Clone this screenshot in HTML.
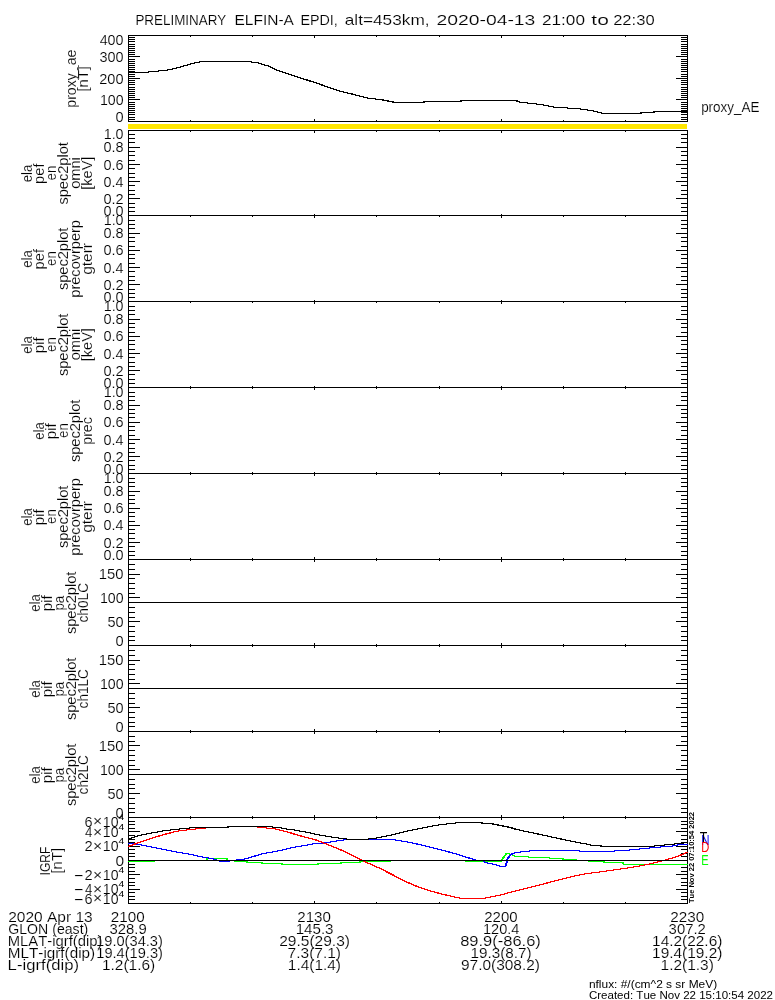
<!DOCTYPE html>
<html><head><meta charset="utf-8"><style>
html,body{margin:0;padding:0;background:#fff;overflow:hidden;}
svg{display:block;}
text{font-family:"Liberation Sans", sans-serif;font-kerning:none;stroke:#fff;stroke-width:0.15px;}
text.ns{stroke:none;}
</style></head><body>
<svg width="775" height="1000" viewBox="0 0 775 1000" shape-rendering="crispEdges">
<rect x="0" y="0" width="775" height="1000" fill="#fff"/>
<defs><clipPath id="pc"><rect x="128" y="0" width="560" height="1000"/></clipPath></defs>
<rect x="128" y="35" width="560" height="1" fill="#000"/>
<rect x="128" y="121" width="560" height="1" fill="#000"/>
<rect x="128" y="35" width="1" height="87" fill="#000"/>
<rect x="687" y="35" width="1" height="87" fill="#000"/>
<rect x="129" y="119" width="6" height="1" fill="#000"/>
<rect x="681" y="119" width="6" height="1" fill="#000"/>
<rect x="129" y="117" width="6" height="1" fill="#000"/>
<rect x="681" y="117" width="6" height="1" fill="#000"/>
<rect x="129" y="114" width="6" height="1" fill="#000"/>
<rect x="681" y="114" width="6" height="1" fill="#000"/>
<rect x="129" y="112" width="6" height="1" fill="#000"/>
<rect x="681" y="112" width="6" height="1" fill="#000"/>
<rect x="129" y="110" width="6" height="1" fill="#000"/>
<rect x="681" y="110" width="6" height="1" fill="#000"/>
<rect x="129" y="108" width="6" height="1" fill="#000"/>
<rect x="681" y="108" width="6" height="1" fill="#000"/>
<rect x="129" y="106" width="6" height="1" fill="#000"/>
<rect x="681" y="106" width="6" height="1" fill="#000"/>
<rect x="129" y="104" width="6" height="1" fill="#000"/>
<rect x="681" y="104" width="6" height="1" fill="#000"/>
<rect x="129" y="102" width="6" height="1" fill="#000"/>
<rect x="681" y="102" width="6" height="1" fill="#000"/>
<rect x="129" y="99" width="11" height="1" fill="#000"/>
<rect x="676" y="99" width="11" height="1" fill="#000"/>
<rect x="129" y="97" width="6" height="1" fill="#000"/>
<rect x="681" y="97" width="6" height="1" fill="#000"/>
<rect x="129" y="95" width="6" height="1" fill="#000"/>
<rect x="681" y="95" width="6" height="1" fill="#000"/>
<rect x="129" y="93" width="6" height="1" fill="#000"/>
<rect x="681" y="93" width="6" height="1" fill="#000"/>
<rect x="129" y="91" width="6" height="1" fill="#000"/>
<rect x="681" y="91" width="6" height="1" fill="#000"/>
<rect x="129" y="89" width="6" height="1" fill="#000"/>
<rect x="681" y="89" width="6" height="1" fill="#000"/>
<rect x="129" y="87" width="6" height="1" fill="#000"/>
<rect x="681" y="87" width="6" height="1" fill="#000"/>
<rect x="129" y="84" width="6" height="1" fill="#000"/>
<rect x="681" y="84" width="6" height="1" fill="#000"/>
<rect x="129" y="82" width="6" height="1" fill="#000"/>
<rect x="681" y="82" width="6" height="1" fill="#000"/>
<rect x="129" y="80" width="6" height="1" fill="#000"/>
<rect x="681" y="80" width="6" height="1" fill="#000"/>
<rect x="129" y="78" width="11" height="1" fill="#000"/>
<rect x="676" y="78" width="11" height="1" fill="#000"/>
<rect x="129" y="76" width="6" height="1" fill="#000"/>
<rect x="681" y="76" width="6" height="1" fill="#000"/>
<rect x="129" y="74" width="6" height="1" fill="#000"/>
<rect x="681" y="74" width="6" height="1" fill="#000"/>
<rect x="129" y="71" width="6" height="1" fill="#000"/>
<rect x="681" y="71" width="6" height="1" fill="#000"/>
<rect x="129" y="69" width="6" height="1" fill="#000"/>
<rect x="681" y="69" width="6" height="1" fill="#000"/>
<rect x="129" y="67" width="6" height="1" fill="#000"/>
<rect x="681" y="67" width="6" height="1" fill="#000"/>
<rect x="129" y="65" width="6" height="1" fill="#000"/>
<rect x="681" y="65" width="6" height="1" fill="#000"/>
<rect x="129" y="63" width="6" height="1" fill="#000"/>
<rect x="681" y="63" width="6" height="1" fill="#000"/>
<rect x="129" y="61" width="6" height="1" fill="#000"/>
<rect x="681" y="61" width="6" height="1" fill="#000"/>
<rect x="129" y="59" width="6" height="1" fill="#000"/>
<rect x="681" y="59" width="6" height="1" fill="#000"/>
<rect x="129" y="56" width="11" height="1" fill="#000"/>
<rect x="676" y="56" width="11" height="1" fill="#000"/>
<rect x="129" y="54" width="6" height="1" fill="#000"/>
<rect x="681" y="54" width="6" height="1" fill="#000"/>
<rect x="129" y="52" width="6" height="1" fill="#000"/>
<rect x="681" y="52" width="6" height="1" fill="#000"/>
<rect x="129" y="50" width="6" height="1" fill="#000"/>
<rect x="681" y="50" width="6" height="1" fill="#000"/>
<rect x="129" y="48" width="6" height="1" fill="#000"/>
<rect x="681" y="48" width="6" height="1" fill="#000"/>
<rect x="129" y="46" width="6" height="1" fill="#000"/>
<rect x="681" y="46" width="6" height="1" fill="#000"/>
<rect x="129" y="44" width="6" height="1" fill="#000"/>
<rect x="681" y="44" width="6" height="1" fill="#000"/>
<rect x="129" y="41" width="6" height="1" fill="#000"/>
<rect x="681" y="41" width="6" height="1" fill="#000"/>
<rect x="129" y="39" width="6" height="1" fill="#000"/>
<rect x="681" y="39" width="6" height="1" fill="#000"/>
<rect x="129" y="37" width="6" height="1" fill="#000"/>
<rect x="681" y="37" width="6" height="1" fill="#000"/>
<rect x="190" y="36" width="1" height="1" fill="#000"/>
<rect x="190" y="120" width="1" height="1" fill="#000"/>
<rect x="252" y="36" width="1" height="1" fill="#000"/>
<rect x="252" y="120" width="1" height="1" fill="#000"/>
<rect x="314" y="36" width="1" height="2" fill="#000"/>
<rect x="314" y="119" width="1" height="2" fill="#000"/>
<rect x="376" y="36" width="1" height="1" fill="#000"/>
<rect x="376" y="120" width="1" height="1" fill="#000"/>
<rect x="439" y="36" width="1" height="1" fill="#000"/>
<rect x="439" y="120" width="1" height="1" fill="#000"/>
<rect x="501" y="36" width="1" height="2" fill="#000"/>
<rect x="501" y="119" width="1" height="2" fill="#000"/>
<rect x="563" y="36" width="1" height="1" fill="#000"/>
<rect x="563" y="120" width="1" height="1" fill="#000"/>
<rect x="625" y="36" width="1" height="1" fill="#000"/>
<rect x="625" y="120" width="1" height="1" fill="#000"/>
<rect x="128" y="130" width="560" height="1" fill="#000"/>
<rect x="128" y="215" width="560" height="1" fill="#000"/>
<rect x="128" y="130" width="1" height="86" fill="#000"/>
<rect x="687" y="130" width="1" height="86" fill="#000"/>
<rect x="129" y="211" width="6" height="1" fill="#000"/>
<rect x="681" y="211" width="6" height="1" fill="#000"/>
<rect x="129" y="207" width="6" height="1" fill="#000"/>
<rect x="681" y="207" width="6" height="1" fill="#000"/>
<rect x="129" y="203" width="6" height="1" fill="#000"/>
<rect x="681" y="203" width="6" height="1" fill="#000"/>
<rect x="129" y="198" width="11" height="1" fill="#000"/>
<rect x="676" y="198" width="11" height="1" fill="#000"/>
<rect x="129" y="194" width="6" height="1" fill="#000"/>
<rect x="681" y="194" width="6" height="1" fill="#000"/>
<rect x="129" y="190" width="6" height="1" fill="#000"/>
<rect x="681" y="190" width="6" height="1" fill="#000"/>
<rect x="129" y="185" width="6" height="1" fill="#000"/>
<rect x="681" y="185" width="6" height="1" fill="#000"/>
<rect x="129" y="181" width="11" height="1" fill="#000"/>
<rect x="676" y="181" width="11" height="1" fill="#000"/>
<rect x="129" y="177" width="6" height="1" fill="#000"/>
<rect x="681" y="177" width="6" height="1" fill="#000"/>
<rect x="129" y="173" width="6" height="1" fill="#000"/>
<rect x="681" y="173" width="6" height="1" fill="#000"/>
<rect x="129" y="168" width="6" height="1" fill="#000"/>
<rect x="681" y="168" width="6" height="1" fill="#000"/>
<rect x="129" y="164" width="11" height="1" fill="#000"/>
<rect x="676" y="164" width="11" height="1" fill="#000"/>
<rect x="129" y="160" width="6" height="1" fill="#000"/>
<rect x="681" y="160" width="6" height="1" fill="#000"/>
<rect x="129" y="155" width="6" height="1" fill="#000"/>
<rect x="681" y="155" width="6" height="1" fill="#000"/>
<rect x="129" y="151" width="6" height="1" fill="#000"/>
<rect x="681" y="151" width="6" height="1" fill="#000"/>
<rect x="129" y="147" width="11" height="1" fill="#000"/>
<rect x="676" y="147" width="11" height="1" fill="#000"/>
<rect x="129" y="142" width="6" height="1" fill="#000"/>
<rect x="681" y="142" width="6" height="1" fill="#000"/>
<rect x="129" y="138" width="6" height="1" fill="#000"/>
<rect x="681" y="138" width="6" height="1" fill="#000"/>
<rect x="129" y="134" width="6" height="1" fill="#000"/>
<rect x="681" y="134" width="6" height="1" fill="#000"/>
<rect x="190" y="131" width="1" height="1" fill="#000"/>
<rect x="252" y="131" width="1" height="1" fill="#000"/>
<rect x="314" y="131" width="1" height="2" fill="#000"/>
<rect x="314" y="214" width="1" height="1" fill="#000"/>
<rect x="376" y="131" width="1" height="1" fill="#000"/>
<rect x="439" y="131" width="1" height="1" fill="#000"/>
<rect x="501" y="131" width="1" height="2" fill="#000"/>
<rect x="501" y="214" width="1" height="1" fill="#000"/>
<rect x="563" y="131" width="1" height="1" fill="#000"/>
<rect x="625" y="131" width="1" height="1" fill="#000"/>
<rect x="128" y="215" width="560" height="1" fill="#000"/>
<rect x="128" y="301" width="560" height="1" fill="#000"/>
<rect x="128" y="215" width="1" height="87" fill="#000"/>
<rect x="687" y="215" width="1" height="87" fill="#000"/>
<rect x="129" y="297" width="6" height="1" fill="#000"/>
<rect x="681" y="297" width="6" height="1" fill="#000"/>
<rect x="129" y="293" width="6" height="1" fill="#000"/>
<rect x="681" y="293" width="6" height="1" fill="#000"/>
<rect x="129" y="289" width="6" height="1" fill="#000"/>
<rect x="681" y="289" width="6" height="1" fill="#000"/>
<rect x="129" y="284" width="11" height="1" fill="#000"/>
<rect x="676" y="284" width="11" height="1" fill="#000"/>
<rect x="129" y="280" width="6" height="1" fill="#000"/>
<rect x="681" y="280" width="6" height="1" fill="#000"/>
<rect x="129" y="276" width="6" height="1" fill="#000"/>
<rect x="681" y="276" width="6" height="1" fill="#000"/>
<rect x="129" y="271" width="6" height="1" fill="#000"/>
<rect x="681" y="271" width="6" height="1" fill="#000"/>
<rect x="129" y="267" width="11" height="1" fill="#000"/>
<rect x="676" y="267" width="11" height="1" fill="#000"/>
<rect x="129" y="263" width="6" height="1" fill="#000"/>
<rect x="681" y="263" width="6" height="1" fill="#000"/>
<rect x="129" y="258" width="6" height="1" fill="#000"/>
<rect x="681" y="258" width="6" height="1" fill="#000"/>
<rect x="129" y="254" width="6" height="1" fill="#000"/>
<rect x="681" y="254" width="6" height="1" fill="#000"/>
<rect x="129" y="250" width="11" height="1" fill="#000"/>
<rect x="676" y="250" width="11" height="1" fill="#000"/>
<rect x="129" y="246" width="6" height="1" fill="#000"/>
<rect x="681" y="246" width="6" height="1" fill="#000"/>
<rect x="129" y="241" width="6" height="1" fill="#000"/>
<rect x="681" y="241" width="6" height="1" fill="#000"/>
<rect x="129" y="237" width="6" height="1" fill="#000"/>
<rect x="681" y="237" width="6" height="1" fill="#000"/>
<rect x="129" y="233" width="11" height="1" fill="#000"/>
<rect x="676" y="233" width="11" height="1" fill="#000"/>
<rect x="129" y="228" width="6" height="1" fill="#000"/>
<rect x="681" y="228" width="6" height="1" fill="#000"/>
<rect x="129" y="224" width="6" height="1" fill="#000"/>
<rect x="681" y="224" width="6" height="1" fill="#000"/>
<rect x="129" y="220" width="6" height="1" fill="#000"/>
<rect x="681" y="220" width="6" height="1" fill="#000"/>
<rect x="190" y="216" width="1" height="1" fill="#000"/>
<rect x="252" y="216" width="1" height="1" fill="#000"/>
<rect x="314" y="216" width="1" height="2" fill="#000"/>
<rect x="314" y="300" width="1" height="1" fill="#000"/>
<rect x="376" y="216" width="1" height="1" fill="#000"/>
<rect x="439" y="216" width="1" height="1" fill="#000"/>
<rect x="501" y="216" width="1" height="2" fill="#000"/>
<rect x="501" y="300" width="1" height="1" fill="#000"/>
<rect x="563" y="216" width="1" height="1" fill="#000"/>
<rect x="625" y="216" width="1" height="1" fill="#000"/>
<rect x="128" y="301" width="560" height="1" fill="#000"/>
<rect x="128" y="387" width="560" height="1" fill="#000"/>
<rect x="128" y="301" width="1" height="87" fill="#000"/>
<rect x="687" y="301" width="1" height="87" fill="#000"/>
<rect x="129" y="383" width="6" height="1" fill="#000"/>
<rect x="681" y="383" width="6" height="1" fill="#000"/>
<rect x="129" y="379" width="6" height="1" fill="#000"/>
<rect x="681" y="379" width="6" height="1" fill="#000"/>
<rect x="129" y="374" width="6" height="1" fill="#000"/>
<rect x="681" y="374" width="6" height="1" fill="#000"/>
<rect x="129" y="370" width="11" height="1" fill="#000"/>
<rect x="676" y="370" width="11" height="1" fill="#000"/>
<rect x="129" y="366" width="6" height="1" fill="#000"/>
<rect x="681" y="366" width="6" height="1" fill="#000"/>
<rect x="129" y="362" width="6" height="1" fill="#000"/>
<rect x="681" y="362" width="6" height="1" fill="#000"/>
<rect x="129" y="357" width="6" height="1" fill="#000"/>
<rect x="681" y="357" width="6" height="1" fill="#000"/>
<rect x="129" y="353" width="11" height="1" fill="#000"/>
<rect x="676" y="353" width="11" height="1" fill="#000"/>
<rect x="129" y="349" width="6" height="1" fill="#000"/>
<rect x="681" y="349" width="6" height="1" fill="#000"/>
<rect x="129" y="344" width="6" height="1" fill="#000"/>
<rect x="681" y="344" width="6" height="1" fill="#000"/>
<rect x="129" y="340" width="6" height="1" fill="#000"/>
<rect x="681" y="340" width="6" height="1" fill="#000"/>
<rect x="129" y="336" width="11" height="1" fill="#000"/>
<rect x="676" y="336" width="11" height="1" fill="#000"/>
<rect x="129" y="332" width="6" height="1" fill="#000"/>
<rect x="681" y="332" width="6" height="1" fill="#000"/>
<rect x="129" y="327" width="6" height="1" fill="#000"/>
<rect x="681" y="327" width="6" height="1" fill="#000"/>
<rect x="129" y="323" width="6" height="1" fill="#000"/>
<rect x="681" y="323" width="6" height="1" fill="#000"/>
<rect x="129" y="319" width="11" height="1" fill="#000"/>
<rect x="676" y="319" width="11" height="1" fill="#000"/>
<rect x="129" y="314" width="6" height="1" fill="#000"/>
<rect x="681" y="314" width="6" height="1" fill="#000"/>
<rect x="129" y="310" width="6" height="1" fill="#000"/>
<rect x="681" y="310" width="6" height="1" fill="#000"/>
<rect x="129" y="306" width="6" height="1" fill="#000"/>
<rect x="681" y="306" width="6" height="1" fill="#000"/>
<rect x="190" y="302" width="1" height="1" fill="#000"/>
<rect x="190" y="386" width="1" height="1" fill="#000"/>
<rect x="252" y="302" width="1" height="1" fill="#000"/>
<rect x="252" y="386" width="1" height="1" fill="#000"/>
<rect x="314" y="302" width="1" height="2" fill="#000"/>
<rect x="314" y="386" width="1" height="1" fill="#000"/>
<rect x="376" y="302" width="1" height="1" fill="#000"/>
<rect x="376" y="386" width="1" height="1" fill="#000"/>
<rect x="439" y="302" width="1" height="1" fill="#000"/>
<rect x="439" y="386" width="1" height="1" fill="#000"/>
<rect x="501" y="302" width="1" height="2" fill="#000"/>
<rect x="501" y="386" width="1" height="1" fill="#000"/>
<rect x="563" y="302" width="1" height="1" fill="#000"/>
<rect x="563" y="386" width="1" height="1" fill="#000"/>
<rect x="625" y="302" width="1" height="1" fill="#000"/>
<rect x="625" y="386" width="1" height="1" fill="#000"/>
<rect x="128" y="387" width="560" height="1" fill="#000"/>
<rect x="128" y="473" width="560" height="1" fill="#000"/>
<rect x="128" y="387" width="1" height="87" fill="#000"/>
<rect x="687" y="387" width="1" height="87" fill="#000"/>
<rect x="129" y="469" width="6" height="1" fill="#000"/>
<rect x="681" y="469" width="6" height="1" fill="#000"/>
<rect x="129" y="465" width="6" height="1" fill="#000"/>
<rect x="681" y="465" width="6" height="1" fill="#000"/>
<rect x="129" y="460" width="6" height="1" fill="#000"/>
<rect x="681" y="460" width="6" height="1" fill="#000"/>
<rect x="129" y="456" width="11" height="1" fill="#000"/>
<rect x="676" y="456" width="11" height="1" fill="#000"/>
<rect x="129" y="452" width="6" height="1" fill="#000"/>
<rect x="681" y="452" width="6" height="1" fill="#000"/>
<rect x="129" y="448" width="6" height="1" fill="#000"/>
<rect x="681" y="448" width="6" height="1" fill="#000"/>
<rect x="129" y="443" width="6" height="1" fill="#000"/>
<rect x="681" y="443" width="6" height="1" fill="#000"/>
<rect x="129" y="439" width="11" height="1" fill="#000"/>
<rect x="676" y="439" width="11" height="1" fill="#000"/>
<rect x="129" y="435" width="6" height="1" fill="#000"/>
<rect x="681" y="435" width="6" height="1" fill="#000"/>
<rect x="129" y="430" width="6" height="1" fill="#000"/>
<rect x="681" y="430" width="6" height="1" fill="#000"/>
<rect x="129" y="426" width="6" height="1" fill="#000"/>
<rect x="681" y="426" width="6" height="1" fill="#000"/>
<rect x="129" y="422" width="11" height="1" fill="#000"/>
<rect x="676" y="422" width="11" height="1" fill="#000"/>
<rect x="129" y="417" width="6" height="1" fill="#000"/>
<rect x="681" y="417" width="6" height="1" fill="#000"/>
<rect x="129" y="413" width="6" height="1" fill="#000"/>
<rect x="681" y="413" width="6" height="1" fill="#000"/>
<rect x="129" y="409" width="6" height="1" fill="#000"/>
<rect x="681" y="409" width="6" height="1" fill="#000"/>
<rect x="129" y="405" width="11" height="1" fill="#000"/>
<rect x="676" y="405" width="11" height="1" fill="#000"/>
<rect x="129" y="400" width="6" height="1" fill="#000"/>
<rect x="681" y="400" width="6" height="1" fill="#000"/>
<rect x="129" y="396" width="6" height="1" fill="#000"/>
<rect x="681" y="396" width="6" height="1" fill="#000"/>
<rect x="129" y="392" width="6" height="1" fill="#000"/>
<rect x="681" y="392" width="6" height="1" fill="#000"/>
<rect x="190" y="388" width="1" height="1" fill="#000"/>
<rect x="190" y="472" width="1" height="1" fill="#000"/>
<rect x="252" y="388" width="1" height="1" fill="#000"/>
<rect x="252" y="472" width="1" height="1" fill="#000"/>
<rect x="314" y="388" width="1" height="2" fill="#000"/>
<rect x="314" y="472" width="1" height="1" fill="#000"/>
<rect x="376" y="388" width="1" height="1" fill="#000"/>
<rect x="376" y="472" width="1" height="1" fill="#000"/>
<rect x="439" y="388" width="1" height="1" fill="#000"/>
<rect x="439" y="472" width="1" height="1" fill="#000"/>
<rect x="501" y="388" width="1" height="2" fill="#000"/>
<rect x="501" y="472" width="1" height="1" fill="#000"/>
<rect x="563" y="388" width="1" height="1" fill="#000"/>
<rect x="563" y="472" width="1" height="1" fill="#000"/>
<rect x="625" y="388" width="1" height="1" fill="#000"/>
<rect x="625" y="472" width="1" height="1" fill="#000"/>
<rect x="128" y="473" width="560" height="1" fill="#000"/>
<rect x="128" y="559" width="560" height="1" fill="#000"/>
<rect x="128" y="473" width="1" height="87" fill="#000"/>
<rect x="687" y="473" width="1" height="87" fill="#000"/>
<rect x="129" y="555" width="6" height="1" fill="#000"/>
<rect x="681" y="555" width="6" height="1" fill="#000"/>
<rect x="129" y="551" width="6" height="1" fill="#000"/>
<rect x="681" y="551" width="6" height="1" fill="#000"/>
<rect x="129" y="546" width="6" height="1" fill="#000"/>
<rect x="681" y="546" width="6" height="1" fill="#000"/>
<rect x="129" y="542" width="11" height="1" fill="#000"/>
<rect x="676" y="542" width="11" height="1" fill="#000"/>
<rect x="129" y="538" width="6" height="1" fill="#000"/>
<rect x="681" y="538" width="6" height="1" fill="#000"/>
<rect x="129" y="533" width="6" height="1" fill="#000"/>
<rect x="681" y="533" width="6" height="1" fill="#000"/>
<rect x="129" y="529" width="6" height="1" fill="#000"/>
<rect x="681" y="529" width="6" height="1" fill="#000"/>
<rect x="129" y="525" width="11" height="1" fill="#000"/>
<rect x="676" y="525" width="11" height="1" fill="#000"/>
<rect x="129" y="521" width="6" height="1" fill="#000"/>
<rect x="681" y="521" width="6" height="1" fill="#000"/>
<rect x="129" y="516" width="6" height="1" fill="#000"/>
<rect x="681" y="516" width="6" height="1" fill="#000"/>
<rect x="129" y="512" width="6" height="1" fill="#000"/>
<rect x="681" y="512" width="6" height="1" fill="#000"/>
<rect x="129" y="508" width="11" height="1" fill="#000"/>
<rect x="676" y="508" width="11" height="1" fill="#000"/>
<rect x="129" y="503" width="6" height="1" fill="#000"/>
<rect x="681" y="503" width="6" height="1" fill="#000"/>
<rect x="129" y="499" width="6" height="1" fill="#000"/>
<rect x="681" y="499" width="6" height="1" fill="#000"/>
<rect x="129" y="495" width="6" height="1" fill="#000"/>
<rect x="681" y="495" width="6" height="1" fill="#000"/>
<rect x="129" y="491" width="11" height="1" fill="#000"/>
<rect x="676" y="491" width="11" height="1" fill="#000"/>
<rect x="129" y="486" width="6" height="1" fill="#000"/>
<rect x="681" y="486" width="6" height="1" fill="#000"/>
<rect x="129" y="482" width="6" height="1" fill="#000"/>
<rect x="681" y="482" width="6" height="1" fill="#000"/>
<rect x="129" y="478" width="6" height="1" fill="#000"/>
<rect x="681" y="478" width="6" height="1" fill="#000"/>
<rect x="190" y="474" width="1" height="1" fill="#000"/>
<rect x="190" y="558" width="1" height="1" fill="#000"/>
<rect x="252" y="474" width="1" height="1" fill="#000"/>
<rect x="252" y="558" width="1" height="1" fill="#000"/>
<rect x="314" y="474" width="1" height="2" fill="#000"/>
<rect x="314" y="557" width="1" height="2" fill="#000"/>
<rect x="376" y="474" width="1" height="1" fill="#000"/>
<rect x="376" y="558" width="1" height="1" fill="#000"/>
<rect x="439" y="474" width="1" height="1" fill="#000"/>
<rect x="439" y="558" width="1" height="1" fill="#000"/>
<rect x="501" y="474" width="1" height="2" fill="#000"/>
<rect x="501" y="557" width="1" height="2" fill="#000"/>
<rect x="563" y="474" width="1" height="1" fill="#000"/>
<rect x="563" y="558" width="1" height="1" fill="#000"/>
<rect x="625" y="474" width="1" height="1" fill="#000"/>
<rect x="625" y="558" width="1" height="1" fill="#000"/>
<rect x="128" y="559" width="560" height="1" fill="#000"/>
<rect x="128" y="645" width="560" height="1" fill="#000"/>
<rect x="128" y="559" width="1" height="87" fill="#000"/>
<rect x="687" y="559" width="1" height="87" fill="#000"/>
<rect x="129" y="640" width="6" height="1" fill="#000"/>
<rect x="681" y="640" width="6" height="1" fill="#000"/>
<rect x="129" y="636" width="6" height="1" fill="#000"/>
<rect x="681" y="636" width="6" height="1" fill="#000"/>
<rect x="129" y="631" width="6" height="1" fill="#000"/>
<rect x="681" y="631" width="6" height="1" fill="#000"/>
<rect x="129" y="626" width="6" height="1" fill="#000"/>
<rect x="681" y="626" width="6" height="1" fill="#000"/>
<rect x="129" y="621" width="11" height="1" fill="#000"/>
<rect x="676" y="621" width="11" height="1" fill="#000"/>
<rect x="129" y="617" width="6" height="1" fill="#000"/>
<rect x="681" y="617" width="6" height="1" fill="#000"/>
<rect x="129" y="612" width="6" height="1" fill="#000"/>
<rect x="681" y="612" width="6" height="1" fill="#000"/>
<rect x="129" y="607" width="6" height="1" fill="#000"/>
<rect x="681" y="607" width="6" height="1" fill="#000"/>
<rect x="129" y="602" width="6" height="1" fill="#000"/>
<rect x="681" y="602" width="6" height="1" fill="#000"/>
<rect x="129" y="597" width="11" height="1" fill="#000"/>
<rect x="676" y="597" width="11" height="1" fill="#000"/>
<rect x="129" y="593" width="6" height="1" fill="#000"/>
<rect x="681" y="593" width="6" height="1" fill="#000"/>
<rect x="129" y="588" width="6" height="1" fill="#000"/>
<rect x="681" y="588" width="6" height="1" fill="#000"/>
<rect x="129" y="583" width="6" height="1" fill="#000"/>
<rect x="681" y="583" width="6" height="1" fill="#000"/>
<rect x="129" y="578" width="6" height="1" fill="#000"/>
<rect x="681" y="578" width="6" height="1" fill="#000"/>
<rect x="129" y="574" width="11" height="1" fill="#000"/>
<rect x="676" y="574" width="11" height="1" fill="#000"/>
<rect x="129" y="569" width="6" height="1" fill="#000"/>
<rect x="681" y="569" width="6" height="1" fill="#000"/>
<rect x="129" y="564" width="6" height="1" fill="#000"/>
<rect x="681" y="564" width="6" height="1" fill="#000"/>
<rect x="190" y="560" width="1" height="1" fill="#000"/>
<rect x="190" y="644" width="1" height="1" fill="#000"/>
<rect x="252" y="560" width="1" height="1" fill="#000"/>
<rect x="252" y="644" width="1" height="1" fill="#000"/>
<rect x="314" y="560" width="1" height="2" fill="#000"/>
<rect x="314" y="643" width="1" height="2" fill="#000"/>
<rect x="376" y="560" width="1" height="1" fill="#000"/>
<rect x="376" y="644" width="1" height="1" fill="#000"/>
<rect x="439" y="560" width="1" height="1" fill="#000"/>
<rect x="439" y="644" width="1" height="1" fill="#000"/>
<rect x="501" y="560" width="1" height="2" fill="#000"/>
<rect x="501" y="643" width="1" height="2" fill="#000"/>
<rect x="563" y="560" width="1" height="1" fill="#000"/>
<rect x="563" y="644" width="1" height="1" fill="#000"/>
<rect x="625" y="560" width="1" height="1" fill="#000"/>
<rect x="625" y="644" width="1" height="1" fill="#000"/>
<rect x="128" y="645" width="560" height="1" fill="#000"/>
<rect x="128" y="731" width="560" height="1" fill="#000"/>
<rect x="128" y="645" width="1" height="87" fill="#000"/>
<rect x="687" y="645" width="1" height="87" fill="#000"/>
<rect x="129" y="726" width="6" height="1" fill="#000"/>
<rect x="681" y="726" width="6" height="1" fill="#000"/>
<rect x="129" y="722" width="6" height="1" fill="#000"/>
<rect x="681" y="722" width="6" height="1" fill="#000"/>
<rect x="129" y="717" width="6" height="1" fill="#000"/>
<rect x="681" y="717" width="6" height="1" fill="#000"/>
<rect x="129" y="712" width="6" height="1" fill="#000"/>
<rect x="681" y="712" width="6" height="1" fill="#000"/>
<rect x="129" y="707" width="11" height="1" fill="#000"/>
<rect x="676" y="707" width="11" height="1" fill="#000"/>
<rect x="129" y="703" width="6" height="1" fill="#000"/>
<rect x="681" y="703" width="6" height="1" fill="#000"/>
<rect x="129" y="698" width="6" height="1" fill="#000"/>
<rect x="681" y="698" width="6" height="1" fill="#000"/>
<rect x="129" y="693" width="6" height="1" fill="#000"/>
<rect x="681" y="693" width="6" height="1" fill="#000"/>
<rect x="129" y="688" width="6" height="1" fill="#000"/>
<rect x="681" y="688" width="6" height="1" fill="#000"/>
<rect x="129" y="683" width="11" height="1" fill="#000"/>
<rect x="676" y="683" width="11" height="1" fill="#000"/>
<rect x="129" y="679" width="6" height="1" fill="#000"/>
<rect x="681" y="679" width="6" height="1" fill="#000"/>
<rect x="129" y="674" width="6" height="1" fill="#000"/>
<rect x="681" y="674" width="6" height="1" fill="#000"/>
<rect x="129" y="669" width="6" height="1" fill="#000"/>
<rect x="681" y="669" width="6" height="1" fill="#000"/>
<rect x="129" y="664" width="6" height="1" fill="#000"/>
<rect x="681" y="664" width="6" height="1" fill="#000"/>
<rect x="129" y="660" width="11" height="1" fill="#000"/>
<rect x="676" y="660" width="11" height="1" fill="#000"/>
<rect x="129" y="655" width="6" height="1" fill="#000"/>
<rect x="681" y="655" width="6" height="1" fill="#000"/>
<rect x="129" y="650" width="6" height="1" fill="#000"/>
<rect x="681" y="650" width="6" height="1" fill="#000"/>
<rect x="190" y="646" width="1" height="1" fill="#000"/>
<rect x="190" y="730" width="1" height="1" fill="#000"/>
<rect x="252" y="646" width="1" height="1" fill="#000"/>
<rect x="252" y="730" width="1" height="1" fill="#000"/>
<rect x="314" y="646" width="1" height="2" fill="#000"/>
<rect x="314" y="729" width="1" height="2" fill="#000"/>
<rect x="376" y="646" width="1" height="1" fill="#000"/>
<rect x="376" y="730" width="1" height="1" fill="#000"/>
<rect x="439" y="646" width="1" height="1" fill="#000"/>
<rect x="439" y="730" width="1" height="1" fill="#000"/>
<rect x="501" y="646" width="1" height="2" fill="#000"/>
<rect x="501" y="729" width="1" height="2" fill="#000"/>
<rect x="563" y="646" width="1" height="1" fill="#000"/>
<rect x="563" y="730" width="1" height="1" fill="#000"/>
<rect x="625" y="646" width="1" height="1" fill="#000"/>
<rect x="625" y="730" width="1" height="1" fill="#000"/>
<rect x="128" y="731" width="560" height="1" fill="#000"/>
<rect x="128" y="817" width="560" height="1" fill="#000"/>
<rect x="128" y="731" width="1" height="87" fill="#000"/>
<rect x="687" y="731" width="1" height="87" fill="#000"/>
<rect x="129" y="812" width="6" height="1" fill="#000"/>
<rect x="681" y="812" width="6" height="1" fill="#000"/>
<rect x="129" y="808" width="6" height="1" fill="#000"/>
<rect x="681" y="808" width="6" height="1" fill="#000"/>
<rect x="129" y="803" width="6" height="1" fill="#000"/>
<rect x="681" y="803" width="6" height="1" fill="#000"/>
<rect x="129" y="798" width="6" height="1" fill="#000"/>
<rect x="681" y="798" width="6" height="1" fill="#000"/>
<rect x="129" y="793" width="11" height="1" fill="#000"/>
<rect x="676" y="793" width="11" height="1" fill="#000"/>
<rect x="129" y="788" width="6" height="1" fill="#000"/>
<rect x="681" y="788" width="6" height="1" fill="#000"/>
<rect x="129" y="784" width="6" height="1" fill="#000"/>
<rect x="681" y="784" width="6" height="1" fill="#000"/>
<rect x="129" y="779" width="6" height="1" fill="#000"/>
<rect x="681" y="779" width="6" height="1" fill="#000"/>
<rect x="129" y="774" width="6" height="1" fill="#000"/>
<rect x="681" y="774" width="6" height="1" fill="#000"/>
<rect x="129" y="769" width="11" height="1" fill="#000"/>
<rect x="676" y="769" width="11" height="1" fill="#000"/>
<rect x="129" y="765" width="6" height="1" fill="#000"/>
<rect x="681" y="765" width="6" height="1" fill="#000"/>
<rect x="129" y="760" width="6" height="1" fill="#000"/>
<rect x="681" y="760" width="6" height="1" fill="#000"/>
<rect x="129" y="755" width="6" height="1" fill="#000"/>
<rect x="681" y="755" width="6" height="1" fill="#000"/>
<rect x="129" y="750" width="6" height="1" fill="#000"/>
<rect x="681" y="750" width="6" height="1" fill="#000"/>
<rect x="129" y="745" width="11" height="1" fill="#000"/>
<rect x="676" y="745" width="11" height="1" fill="#000"/>
<rect x="129" y="741" width="6" height="1" fill="#000"/>
<rect x="681" y="741" width="6" height="1" fill="#000"/>
<rect x="129" y="736" width="6" height="1" fill="#000"/>
<rect x="681" y="736" width="6" height="1" fill="#000"/>
<rect x="190" y="732" width="1" height="1" fill="#000"/>
<rect x="190" y="816" width="1" height="1" fill="#000"/>
<rect x="252" y="732" width="1" height="1" fill="#000"/>
<rect x="252" y="816" width="1" height="1" fill="#000"/>
<rect x="314" y="732" width="1" height="2" fill="#000"/>
<rect x="314" y="815" width="1" height="2" fill="#000"/>
<rect x="376" y="732" width="1" height="1" fill="#000"/>
<rect x="376" y="816" width="1" height="1" fill="#000"/>
<rect x="439" y="732" width="1" height="1" fill="#000"/>
<rect x="439" y="816" width="1" height="1" fill="#000"/>
<rect x="501" y="732" width="1" height="2" fill="#000"/>
<rect x="501" y="815" width="1" height="2" fill="#000"/>
<rect x="563" y="732" width="1" height="1" fill="#000"/>
<rect x="563" y="816" width="1" height="1" fill="#000"/>
<rect x="625" y="732" width="1" height="1" fill="#000"/>
<rect x="625" y="816" width="1" height="1" fill="#000"/>
<rect x="128" y="817" width="560" height="1" fill="#000"/>
<rect x="128" y="903" width="560" height="1" fill="#000"/>
<rect x="128" y="817" width="1" height="87" fill="#000"/>
<rect x="687" y="817" width="1" height="87" fill="#000"/>
<rect x="129" y="899" width="6" height="1" fill="#000"/>
<rect x="681" y="899" width="6" height="1" fill="#000"/>
<rect x="129" y="896" width="6" height="1" fill="#000"/>
<rect x="681" y="896" width="6" height="1" fill="#000"/>
<rect x="129" y="892" width="6" height="1" fill="#000"/>
<rect x="681" y="892" width="6" height="1" fill="#000"/>
<rect x="129" y="889" width="11" height="1" fill="#000"/>
<rect x="676" y="889" width="11" height="1" fill="#000"/>
<rect x="129" y="885" width="6" height="1" fill="#000"/>
<rect x="681" y="885" width="6" height="1" fill="#000"/>
<rect x="129" y="882" width="6" height="1" fill="#000"/>
<rect x="681" y="882" width="6" height="1" fill="#000"/>
<rect x="129" y="878" width="6" height="1" fill="#000"/>
<rect x="681" y="878" width="6" height="1" fill="#000"/>
<rect x="129" y="874" width="11" height="1" fill="#000"/>
<rect x="676" y="874" width="11" height="1" fill="#000"/>
<rect x="129" y="871" width="6" height="1" fill="#000"/>
<rect x="681" y="871" width="6" height="1" fill="#000"/>
<rect x="129" y="867" width="6" height="1" fill="#000"/>
<rect x="681" y="867" width="6" height="1" fill="#000"/>
<rect x="129" y="864" width="6" height="1" fill="#000"/>
<rect x="681" y="864" width="6" height="1" fill="#000"/>
<rect x="129" y="860" width="11" height="1" fill="#000"/>
<rect x="676" y="860" width="11" height="1" fill="#000"/>
<rect x="129" y="856" width="6" height="1" fill="#000"/>
<rect x="681" y="856" width="6" height="1" fill="#000"/>
<rect x="129" y="853" width="6" height="1" fill="#000"/>
<rect x="681" y="853" width="6" height="1" fill="#000"/>
<rect x="129" y="849" width="6" height="1" fill="#000"/>
<rect x="681" y="849" width="6" height="1" fill="#000"/>
<rect x="129" y="846" width="11" height="1" fill="#000"/>
<rect x="676" y="846" width="11" height="1" fill="#000"/>
<rect x="129" y="842" width="6" height="1" fill="#000"/>
<rect x="681" y="842" width="6" height="1" fill="#000"/>
<rect x="129" y="839" width="6" height="1" fill="#000"/>
<rect x="681" y="839" width="6" height="1" fill="#000"/>
<rect x="129" y="835" width="6" height="1" fill="#000"/>
<rect x="681" y="835" width="6" height="1" fill="#000"/>
<rect x="129" y="831" width="11" height="1" fill="#000"/>
<rect x="676" y="831" width="11" height="1" fill="#000"/>
<rect x="129" y="828" width="6" height="1" fill="#000"/>
<rect x="681" y="828" width="6" height="1" fill="#000"/>
<rect x="129" y="824" width="6" height="1" fill="#000"/>
<rect x="681" y="824" width="6" height="1" fill="#000"/>
<rect x="129" y="821" width="6" height="1" fill="#000"/>
<rect x="681" y="821" width="6" height="1" fill="#000"/>
<rect x="190" y="818" width="1" height="1" fill="#000"/>
<rect x="190" y="902" width="1" height="1" fill="#000"/>
<rect x="252" y="818" width="1" height="1" fill="#000"/>
<rect x="252" y="902" width="1" height="1" fill="#000"/>
<rect x="314" y="818" width="1" height="2" fill="#000"/>
<rect x="314" y="901" width="1" height="2" fill="#000"/>
<rect x="376" y="818" width="1" height="1" fill="#000"/>
<rect x="376" y="902" width="1" height="1" fill="#000"/>
<rect x="439" y="818" width="1" height="1" fill="#000"/>
<rect x="439" y="902" width="1" height="1" fill="#000"/>
<rect x="501" y="818" width="1" height="2" fill="#000"/>
<rect x="501" y="901" width="1" height="2" fill="#000"/>
<rect x="563" y="818" width="1" height="1" fill="#000"/>
<rect x="563" y="902" width="1" height="1" fill="#000"/>
<rect x="625" y="818" width="1" height="1" fill="#000"/>
<rect x="625" y="902" width="1" height="1" fill="#000"/>
<rect x="128" y="124" width="559" height="5" fill="#ffe600"/>
<rect x="128" y="602" width="560" height="1" fill="#000"/>
<rect x="128" y="688" width="560" height="1" fill="#000"/>
<rect x="128" y="774" width="560" height="1" fill="#000"/>
<g clip-path="url(#pc)" fill="none" stroke="#000" stroke-width="1"><polyline points="128,73 150,71.9 167,70.1 180,67 192,63.4 202,61.5 248,61.5 258,63 265,65.2 268,66.1 276,70.1 290,74.8 314,82.4 340,91.4 350,93.6 368,98.3 380,99.5 395,102.5 423,102.5 423,101.5 460,101.5 460,100.5 516,100.5 517,101.7 523,102.8 530,103.2 545,105.3 555,107.4 567,108 580,109 594,111.1 603,113.5 640,113.5 641,112.5 653,112.5 654,111.5 687,111.5"/><polyline points="128,73 150,71.9 167,70.1 180,67 192,63.4 202,61.5 248,61.5 258,63 265,65.2 268,66.1 276,70.1 290,74.8 314,82.4 340,91.4 350,93.6 368,98.3 380,99.5 395,102.5 423,102.5 423,101.5 460,101.5 460,100.5 516,100.5 517,101.7 523,102.8 530,103.2 545,105.3 555,107.4 567,108 580,109 594,111.1 603,113.5 640,113.5 641,112.5 653,112.5 654,111.5 687,111.5" transform="translate(1 0)"/></g>
<g clip-path="url(#pc)" fill="none" stroke="#00ff00" stroke-width="1"><polyline points="128,861.4 153,861.4 153,860.4 206,860.4 206,858.9 226,858.9 226,860.4 234,860.4 234,861.2 246,861.2 246,862.4 261,862.4 261,863.6 281,863.6 281,864.3 317,864.3 317,863.6 340,863.6 340,862.7 359,862.7 360,861.5 389,861.5 390,860.4 465,860.4 465,861.4 500,861.4 506,853.5 508,853.5 512,855 515,856.3 527,856.3 528,857 548,857 549,858.2 562,858.2 563,859.3 575,859.3 576,860.4 588,860.4 588,861.5 603,861.5 603,862.5 622,862.5 623,864.2 687,864.2"/><polyline points="128,861.4 153,861.4 153,860.4 206,860.4 206,858.9 226,858.9 226,860.4 234,860.4 234,861.2 246,861.2 246,862.4 261,862.4 261,863.6 281,863.6 281,864.3 317,864.3 317,863.6 340,863.6 340,862.7 359,862.7 360,861.5 389,861.5 390,860.4 465,860.4 465,861.4 500,861.4 506,853.5 508,853.5 512,855 515,856.3 527,856.3 528,857 548,857 549,858.2 562,858.2 563,859.3 575,859.3 576,860.4 588,860.4 588,861.5 603,861.5 603,862.5 622,862.5 623,864.2 687,864.2" transform="translate(1 0)"/></g>
<g clip-path="url(#pc)" fill="none" stroke="#0000ff" stroke-width="1"><polyline points="128,843.4 138,844.4 151,847 164,849.6 177,852.2 190,854.4 202,857 213,858.9 220,861.2 228,861.2 236,860 245,858.9 262,853.7 270,852.3 279,850.7 288,848.5 297,846.6 308,844.8 314,843.7 321,843.3 328,842.3 334,841.3 341,840.3 347,839.5 391,839.5 398,840.5 404,841.6 410,842.5 425,846 440,849.8 455,853.7 470,858.5 474,859.5 476,860.5 482,860.5 485,862.5 495,864.7 500,866.4 505,866.4 507,858.9 510,855 512,853.7 516,852.4 522,851.8 530,850.9 531,850.2 578,850.2 580,851.4 610,851.4 615,850.9 625,850.9 630,849.8 635,849.8 640,848.8 645,848.8 650,847.9 655,847.9 660,847 665,846.4 670,846.4 675,845.3 680,844.4 687,844.4"/><polyline points="128,843.4 138,844.4 151,847 164,849.6 177,852.2 190,854.4 202,857 213,858.9 220,861.2 228,861.2 236,860 245,858.9 262,853.7 270,852.3 279,850.7 288,848.5 297,846.6 308,844.8 314,843.7 321,843.3 328,842.3 334,841.3 341,840.3 347,839.5 391,839.5 398,840.5 404,841.6 410,842.5 425,846 440,849.8 455,853.7 470,858.5 474,859.5 476,860.5 482,860.5 485,862.5 495,864.7 500,866.4 505,866.4 507,858.9 510,855 512,853.7 516,852.4 522,851.8 530,850.9 531,850.2 578,850.2 580,851.4 610,851.4 615,850.9 625,850.9 630,849.8 635,849.8 640,848.8 645,848.8 650,847.9 655,847.9 660,847 665,846.4 670,846.4 675,845.3 680,844.4 687,844.4" transform="translate(1 0)"/></g>
<g clip-path="url(#pc)" fill="none" stroke="#ff0000" stroke-width="1"><polyline points="128,846.4 138,842.7 151,838.2 164,834.4 177,831.1 190,829.5 202,828.3 209,827.5 227,827.5 228,826.6 257,826.6 258,827.4 270,828.3 275,829 281,830.4 288,832.2 295,834.5 301.6,836.3 308,838.1 315,839.8 328,844.9 341,850.2 354,856.4 362,860.6 380,868.6 392,874.8 405,881.5 416,886.2 429,890.8 442,894.2 455,897.2 462,898.5 482,898.5 490,897 500,895 510,892.3 525,888.5 540,884.7 555,880.8 570,876.9 585,873.7 595,872.6 608,870.8 621,868.9 634,866.9 647,864.4 660,861.4 672,858 680,855.2 687,852.2"/><polyline points="128,846.4 138,842.7 151,838.2 164,834.4 177,831.1 190,829.5 202,828.3 209,827.5 227,827.5 228,826.6 257,826.6 258,827.4 270,828.3 275,829 281,830.4 288,832.2 295,834.5 301.6,836.3 308,838.1 315,839.8 328,844.9 341,850.2 354,856.4 362,860.6 380,868.6 392,874.8 405,881.5 416,886.2 429,890.8 442,894.2 455,897.2 462,898.5 482,898.5 490,897 500,895 510,892.3 525,888.5 540,884.7 555,880.8 570,876.9 585,873.7 595,872.6 608,870.8 621,868.9 634,866.9 647,864.4 660,861.4 672,858 680,855.2 687,852.2" transform="translate(1 0)"/></g>
<g clip-path="url(#pc)" fill="none" stroke="#000" stroke-width="1"><polyline points="128,838.9 138,835.6 151,833 164,830.7 177,829.2 190,827.9 202,827.5 227,827.5 228,826.6 268,826.6 279,827.7 286,829 293.5,829.9 300,831.3 306,832.2 311.6,833.4 317,834.6 328,836.6 341,838.5 351,839.5 364,839.5 373,838.5 379.5,837.3 392.4,834.7 405.3,831.4 415,829.5 425,827.3 440,824.7 455,823 456,822.5 481,822.5 482,823.5 490,823.5 500,825.5 510,827.5 515,829.2 530,832.4 545,835.6 560,838.9 575,842.1 588,844.4 592,845.6 600,845.6 601,846.5 652,846.5 655,845.9 665,844.9 675,843.9 687,842.6"/><polyline points="128,838.9 138,835.6 151,833 164,830.7 177,829.2 190,827.9 202,827.5 227,827.5 228,826.6 268,826.6 279,827.7 286,829 293.5,829.9 300,831.3 306,832.2 311.6,833.4 317,834.6 328,836.6 341,838.5 351,839.5 364,839.5 373,838.5 379.5,837.3 392.4,834.7 405.3,831.4 415,829.5 425,827.3 440,824.7 455,823 456,822.5 481,822.5 482,823.5 490,823.5 500,825.5 510,827.5 515,829.2 530,832.4 545,835.6 560,838.9 575,842.1 588,844.4 592,845.6 600,845.6 601,846.5 652,846.5 655,845.9 665,844.9 675,843.9 687,842.6" transform="translate(1 0)"/></g>
<rect x="128" y="860" width="560" height="1" fill="#000"/>
<g>
<text x="135.4" y="25" font-size="14.5" textLength="90.89" lengthAdjust="spacingAndGlyphs">PRELIMINARY</text>
<text x="234.53" y="25" font-size="14.5" textLength="59.4" lengthAdjust="spacingAndGlyphs">ELFIN-A</text>
<text x="300.43" y="25" font-size="14.5" textLength="37.36" lengthAdjust="spacingAndGlyphs">EPDI,</text>
<text x="344.77" y="25" font-size="14.5" textLength="84.78" lengthAdjust="spacingAndGlyphs">alt=453km,</text>
<text x="436.43" y="25" font-size="14.5" textLength="98.92" lengthAdjust="spacingAndGlyphs">2020-04-13</text>
<text x="541.94" y="25" font-size="14.5" textLength="43.04" lengthAdjust="spacingAndGlyphs">21:00</text>
<text x="591.38" y="25" font-size="14.5" textLength="17.5" lengthAdjust="spacingAndGlyphs">to</text>
<text x="613.17" y="25" font-size="14.5" textLength="41.48" lengthAdjust="spacingAndGlyphs">22:30</text>
<text x="99.67" y="45" font-size="14" textLength="23.89" lengthAdjust="spacingAndGlyphs">400</text>
<text x="99.45" y="62.04" font-size="14" textLength="24.12" lengthAdjust="spacingAndGlyphs">300</text>
<text x="99.27" y="83.53" font-size="14" textLength="24.3" lengthAdjust="spacingAndGlyphs">200</text>
<text x="99.92" y="105.01" font-size="14" textLength="23.63" lengthAdjust="spacingAndGlyphs">100</text>
<text x="115.43" y="122" font-size="14" textLength="8.14" lengthAdjust="spacingAndGlyphs">0</text>
<text x="103.71" y="139" font-size="14" textLength="19.85" lengthAdjust="spacingAndGlyphs">1.0</text>
<text x="103.43" y="152.33" font-size="14" textLength="20.2" lengthAdjust="spacingAndGlyphs">0.8</text>
<text x="103.43" y="169.52" font-size="14" textLength="20.21" lengthAdjust="spacingAndGlyphs">0.6</text>
<text x="103.44" y="186.71" font-size="14" textLength="19.98" lengthAdjust="spacingAndGlyphs">0.4</text>
<text x="103.43" y="203.9" font-size="14" textLength="20.31" lengthAdjust="spacingAndGlyphs">0.2</text>
<text x="103.43" y="215.5" font-size="14" textLength="20.13" lengthAdjust="spacingAndGlyphs">0.0</text>
<text x="103.71" y="225" font-size="14" textLength="19.85" lengthAdjust="spacingAndGlyphs">1.0</text>
<text x="103.43" y="238.28" font-size="14" textLength="20.2" lengthAdjust="spacingAndGlyphs">0.8</text>
<text x="103.43" y="255.47" font-size="14" textLength="20.21" lengthAdjust="spacingAndGlyphs">0.6</text>
<text x="103.44" y="272.66" font-size="14" textLength="19.98" lengthAdjust="spacingAndGlyphs">0.4</text>
<text x="103.43" y="289.85" font-size="14" textLength="20.31" lengthAdjust="spacingAndGlyphs">0.2</text>
<text x="103.43" y="301.5" font-size="14" textLength="20.13" lengthAdjust="spacingAndGlyphs">0.0</text>
<text x="103.71" y="311" font-size="14" textLength="19.85" lengthAdjust="spacingAndGlyphs">1.0</text>
<text x="103.43" y="324.22" font-size="14" textLength="20.2" lengthAdjust="spacingAndGlyphs">0.8</text>
<text x="103.43" y="341.41" font-size="14" textLength="20.21" lengthAdjust="spacingAndGlyphs">0.6</text>
<text x="103.44" y="358.6" font-size="14" textLength="19.98" lengthAdjust="spacingAndGlyphs">0.4</text>
<text x="103.43" y="375.79" font-size="14" textLength="20.31" lengthAdjust="spacingAndGlyphs">0.2</text>
<text x="103.43" y="387.5" font-size="14" textLength="20.13" lengthAdjust="spacingAndGlyphs">0.0</text>
<text x="103.71" y="397" font-size="14" textLength="19.85" lengthAdjust="spacingAndGlyphs">1.0</text>
<text x="103.43" y="410.17" font-size="14" textLength="20.2" lengthAdjust="spacingAndGlyphs">0.8</text>
<text x="103.43" y="427.36" font-size="14" textLength="20.21" lengthAdjust="spacingAndGlyphs">0.6</text>
<text x="103.44" y="444.55" font-size="14" textLength="19.98" lengthAdjust="spacingAndGlyphs">0.4</text>
<text x="103.43" y="461.74" font-size="14" textLength="20.31" lengthAdjust="spacingAndGlyphs">0.2</text>
<text x="103.43" y="473.5" font-size="14" textLength="20.13" lengthAdjust="spacingAndGlyphs">0.0</text>
<text x="103.71" y="483" font-size="14" textLength="19.85" lengthAdjust="spacingAndGlyphs">1.0</text>
<text x="103.43" y="496.11" font-size="14" textLength="20.2" lengthAdjust="spacingAndGlyphs">0.8</text>
<text x="103.43" y="513.3" font-size="14" textLength="20.21" lengthAdjust="spacingAndGlyphs">0.6</text>
<text x="103.44" y="530.49" font-size="14" textLength="19.98" lengthAdjust="spacingAndGlyphs">0.4</text>
<text x="103.43" y="547.68" font-size="14" textLength="20.31" lengthAdjust="spacingAndGlyphs">0.2</text>
<text x="103.43" y="559.5" font-size="14" textLength="20.13" lengthAdjust="spacingAndGlyphs">0.0</text>
<text x="98.87" y="579.19" font-size="14" textLength="24.71" lengthAdjust="spacingAndGlyphs">150</text>
<text x="99.92" y="603.07" font-size="14" textLength="23.63" lengthAdjust="spacingAndGlyphs">100</text>
<text x="107.42" y="626.94" font-size="14" textLength="16.15" lengthAdjust="spacingAndGlyphs">50</text>
<text x="115.43" y="645.5" font-size="14" textLength="8.14" lengthAdjust="spacingAndGlyphs">0</text>
<text x="98.87" y="665.14" font-size="14" textLength="24.71" lengthAdjust="spacingAndGlyphs">150</text>
<text x="99.92" y="689.01" font-size="14" textLength="23.63" lengthAdjust="spacingAndGlyphs">100</text>
<text x="107.42" y="712.89" font-size="14" textLength="16.15" lengthAdjust="spacingAndGlyphs">50</text>
<text x="115.43" y="731.5" font-size="14" textLength="8.14" lengthAdjust="spacingAndGlyphs">0</text>
<text x="98.87" y="751.08" font-size="14" textLength="24.71" lengthAdjust="spacingAndGlyphs">150</text>
<text x="99.92" y="774.96" font-size="14" textLength="23.63" lengthAdjust="spacingAndGlyphs">100</text>
<text x="107.42" y="798.83" font-size="14" textLength="16.15" lengthAdjust="spacingAndGlyphs">50</text>
<text x="115.43" y="817.5" font-size="14" textLength="8.14" lengthAdjust="spacingAndGlyphs">0</text>
<text x="84.56" y="826.5" font-size="14" textLength="8.08" lengthAdjust="spacingAndGlyphs">6</text>
<text x="92.91" y="826.2" font-size="15.5" textLength="9.17" lengthAdjust="spacingAndGlyphs">×</text>
<text x="102.82" y="826.5" font-size="14" textLength="15.73" lengthAdjust="spacingAndGlyphs">10</text>
<text class="ns" x="118.56" y="819.5" font-size="9.6" textLength="5.74" lengthAdjust="spacingAndGlyphs">4</text>
<text x="84.99" y="837.03" font-size="14" textLength="7.39" lengthAdjust="spacingAndGlyphs">4</text>
<text x="92.91" y="836.73" font-size="15.5" textLength="9.17" lengthAdjust="spacingAndGlyphs">×</text>
<text x="102.82" y="837.03" font-size="14" textLength="15.73" lengthAdjust="spacingAndGlyphs">10</text>
<text class="ns" x="118.56" y="830.03" font-size="9.6" textLength="5.74" lengthAdjust="spacingAndGlyphs">4</text>
<text x="84.56" y="851.35" font-size="14" textLength="8.18" lengthAdjust="spacingAndGlyphs">2</text>
<text x="92.91" y="851.05" font-size="15.5" textLength="9.17" lengthAdjust="spacingAndGlyphs">×</text>
<text x="102.82" y="851.35" font-size="14" textLength="15.73" lengthAdjust="spacingAndGlyphs">10</text>
<text class="ns" x="118.56" y="844.35" font-size="9.6" textLength="5.74" lengthAdjust="spacingAndGlyphs">4</text>
<text x="115.4" y="865.68" font-size="14" textLength="8.61" lengthAdjust="spacingAndGlyphs">0</text>
<text x="84.56" y="880" font-size="14" textLength="8.18" lengthAdjust="spacingAndGlyphs">2</text>
<text x="92.91" y="879.7" font-size="15.5" textLength="9.17" lengthAdjust="spacingAndGlyphs">×</text>
<text x="102.82" y="880" font-size="14" textLength="15.73" lengthAdjust="spacingAndGlyphs">10</text>
<text x="73.58" y="880" font-size="14" textLength="10.64" lengthAdjust="spacingAndGlyphs">-</text>
<text class="ns" x="118.56" y="873" font-size="9.6" textLength="5.74" lengthAdjust="spacingAndGlyphs">4</text>
<text x="84.99" y="894.33" font-size="14" textLength="7.39" lengthAdjust="spacingAndGlyphs">4</text>
<text x="92.91" y="894.03" font-size="15.5" textLength="9.17" lengthAdjust="spacingAndGlyphs">×</text>
<text x="102.82" y="894.33" font-size="14" textLength="15.73" lengthAdjust="spacingAndGlyphs">10</text>
<text x="73.58" y="894.33" font-size="14" textLength="10.64" lengthAdjust="spacingAndGlyphs">-</text>
<text class="ns" x="118.56" y="887.33" font-size="9.6" textLength="5.74" lengthAdjust="spacingAndGlyphs">4</text>
<text x="84.56" y="903.5" font-size="14" textLength="8.08" lengthAdjust="spacingAndGlyphs">6</text>
<text x="92.91" y="903.2" font-size="15.5" textLength="9.17" lengthAdjust="spacingAndGlyphs">×</text>
<text x="102.82" y="903.5" font-size="14" textLength="15.73" lengthAdjust="spacingAndGlyphs">10</text>
<text x="73.58" y="903.5" font-size="14" textLength="10.64" lengthAdjust="spacingAndGlyphs">-</text>
<text class="ns" x="118.56" y="896.5" font-size="9.6" textLength="5.74" lengthAdjust="spacingAndGlyphs">4</text>
<text x="76" y="107.71" font-size="14" textLength="58.14" lengthAdjust="spacingAndGlyphs" transform="rotate(-90 76 107.71)">proxy_ae</text>
<text x="88" y="91.56" font-size="14" textLength="25.51" lengthAdjust="spacingAndGlyphs" transform="rotate(-90 88 91.56)">[nT]</text>
<text x="32" y="182.26" font-size="14" textLength="17.56" lengthAdjust="spacingAndGlyphs" transform="rotate(-90 32 182.26)">ela</text>
<text x="44" y="183.95" font-size="14" textLength="20.53" lengthAdjust="spacingAndGlyphs" transform="rotate(-90 44 183.95)">pef</text>
<text x="56" y="180.47" font-size="14" textLength="14.83" lengthAdjust="spacingAndGlyphs" transform="rotate(-90 56 180.47)">en</text>
<text x="68" y="204.61" font-size="14" textLength="62.51" lengthAdjust="spacingAndGlyphs" transform="rotate(-90 68 204.61)">spec2plot</text>
<text x="80" y="188.81" font-size="14" textLength="31.59" lengthAdjust="spacingAndGlyphs" transform="rotate(-90 80 188.81)">omni</text>
<text x="92" y="189.73" font-size="14" textLength="33.07" lengthAdjust="spacingAndGlyphs" transform="rotate(-90 92 189.73)">[keV]</text>
<text x="32" y="267.76" font-size="14" textLength="17.56" lengthAdjust="spacingAndGlyphs" transform="rotate(-90 32 267.76)">ela</text>
<text x="44" y="269.45" font-size="14" textLength="20.53" lengthAdjust="spacingAndGlyphs" transform="rotate(-90 44 269.45)">pef</text>
<text x="56" y="265.97" font-size="14" textLength="14.83" lengthAdjust="spacingAndGlyphs" transform="rotate(-90 56 265.97)">en</text>
<text x="68" y="290.11" font-size="14" textLength="62.51" lengthAdjust="spacingAndGlyphs" transform="rotate(-90 68 290.11)">spec2plot</text>
<text x="80" y="297.64" font-size="14" textLength="77.55" lengthAdjust="spacingAndGlyphs" transform="rotate(-90 80 297.64)">precovrperp</text>
<text x="92" y="274.75" font-size="14" textLength="31.7" lengthAdjust="spacingAndGlyphs" transform="rotate(-90 92 274.75)">gterr</text>
<text x="32" y="353.76" font-size="14" textLength="17.56" lengthAdjust="spacingAndGlyphs" transform="rotate(-90 32 353.76)">ela</text>
<text x="44" y="353.17" font-size="14" textLength="15.95" lengthAdjust="spacingAndGlyphs" transform="rotate(-90 44 353.17)">pif</text>
<text x="56" y="351.97" font-size="14" textLength="14.83" lengthAdjust="spacingAndGlyphs" transform="rotate(-90 56 351.97)">en</text>
<text x="68" y="376.11" font-size="14" textLength="62.51" lengthAdjust="spacingAndGlyphs" transform="rotate(-90 68 376.11)">spec2plot</text>
<text x="80" y="360.31" font-size="14" textLength="31.59" lengthAdjust="spacingAndGlyphs" transform="rotate(-90 80 360.31)">omni</text>
<text x="92" y="361.23" font-size="14" textLength="33.07" lengthAdjust="spacingAndGlyphs" transform="rotate(-90 92 361.23)">[keV]</text>
<text x="44" y="439.76" font-size="14" textLength="17.56" lengthAdjust="spacingAndGlyphs" transform="rotate(-90 44 439.76)">ela</text>
<text x="56" y="439.17" font-size="14" textLength="15.95" lengthAdjust="spacingAndGlyphs" transform="rotate(-90 56 439.17)">pif</text>
<text x="68" y="437.97" font-size="14" textLength="14.83" lengthAdjust="spacingAndGlyphs" transform="rotate(-90 68 437.97)">en</text>
<text x="80" y="462.11" font-size="14" textLength="62.51" lengthAdjust="spacingAndGlyphs" transform="rotate(-90 80 462.11)">spec2plot</text>
<text x="92" y="444.76" font-size="14" textLength="27.59" lengthAdjust="spacingAndGlyphs" transform="rotate(-90 92 444.76)">prec</text>
<text x="32" y="525.76" font-size="14" textLength="17.56" lengthAdjust="spacingAndGlyphs" transform="rotate(-90 32 525.76)">ela</text>
<text x="44" y="525.17" font-size="14" textLength="15.95" lengthAdjust="spacingAndGlyphs" transform="rotate(-90 44 525.17)">pif</text>
<text x="56" y="523.97" font-size="14" textLength="14.83" lengthAdjust="spacingAndGlyphs" transform="rotate(-90 56 523.97)">en</text>
<text x="68" y="548.11" font-size="14" textLength="62.51" lengthAdjust="spacingAndGlyphs" transform="rotate(-90 68 548.11)">spec2plot</text>
<text x="80" y="555.64" font-size="14" textLength="77.55" lengthAdjust="spacingAndGlyphs" transform="rotate(-90 80 555.64)">precovrperp</text>
<text x="92" y="532.75" font-size="14" textLength="31.7" lengthAdjust="spacingAndGlyphs" transform="rotate(-90 92 532.75)">gterr</text>
<text x="40" y="611.76" font-size="14" textLength="17.56" lengthAdjust="spacingAndGlyphs" transform="rotate(-90 40 611.76)">ela</text>
<text x="52" y="611.17" font-size="14" textLength="15.95" lengthAdjust="spacingAndGlyphs" transform="rotate(-90 52 611.17)">pif</text>
<text x="64" y="610.56" font-size="14" textLength="14.86" lengthAdjust="spacingAndGlyphs" transform="rotate(-90 64 610.56)">pa</text>
<text x="76" y="634.11" font-size="14" textLength="62.51" lengthAdjust="spacingAndGlyphs" transform="rotate(-90 76 634.11)">spec2plot</text>
<text x="88" y="622.48" font-size="14" textLength="39.5" lengthAdjust="spacingAndGlyphs" transform="rotate(-90 88 622.48)">ch0LC</text>
<text x="40" y="697.76" font-size="14" textLength="17.56" lengthAdjust="spacingAndGlyphs" transform="rotate(-90 40 697.76)">ela</text>
<text x="52" y="697.17" font-size="14" textLength="15.95" lengthAdjust="spacingAndGlyphs" transform="rotate(-90 52 697.17)">pif</text>
<text x="64" y="696.56" font-size="14" textLength="14.86" lengthAdjust="spacingAndGlyphs" transform="rotate(-90 64 696.56)">pa</text>
<text x="76" y="720.11" font-size="14" textLength="62.51" lengthAdjust="spacingAndGlyphs" transform="rotate(-90 76 720.11)">spec2plot</text>
<text x="88" y="708.38" font-size="14" textLength="39.3" lengthAdjust="spacingAndGlyphs" transform="rotate(-90 88 708.38)">ch1LC</text>
<text x="40" y="783.76" font-size="14" textLength="17.56" lengthAdjust="spacingAndGlyphs" transform="rotate(-90 40 783.76)">ela</text>
<text x="52" y="783.17" font-size="14" textLength="15.95" lengthAdjust="spacingAndGlyphs" transform="rotate(-90 52 783.17)">pif</text>
<text x="64" y="782.56" font-size="14" textLength="14.86" lengthAdjust="spacingAndGlyphs" transform="rotate(-90 64 782.56)">pa</text>
<text x="76" y="806.11" font-size="14" textLength="62.51" lengthAdjust="spacingAndGlyphs" transform="rotate(-90 76 806.11)">spec2plot</text>
<text x="88" y="794.38" font-size="14" textLength="39.3" lengthAdjust="spacingAndGlyphs" transform="rotate(-90 88 794.38)">ch2LC</text>
<text x="50" y="875.47" font-size="14" textLength="28.9" lengthAdjust="spacingAndGlyphs" transform="rotate(-90 50 875.47)">IGRF</text>
<text x="62" y="873.62" font-size="14" textLength="25.84" lengthAdjust="spacingAndGlyphs" transform="rotate(-90 62 873.62)">[nT]</text>
<text x="701.13" y="112" font-size="14.5" textLength="58.45" lengthAdjust="spacingAndGlyphs">proxy_AE</text>
<text class="ns" x="701.26" y="844.9" font-size="14" textLength="8.27" lengthAdjust="spacingAndGlyphs" fill="#0000ff">N</text>
<text class="ns" x="701.29" y="851.9" font-size="14" textLength="8.05" lengthAdjust="spacingAndGlyphs" fill="#ff0000">D</text>
<text class="ns" x="701.29" y="864.7" font-size="14" textLength="7.38" lengthAdjust="spacingAndGlyphs" fill="#00ff00">E</text>
<text class="ns" x="699.72" y="841.9" font-size="14" textLength="7.56" lengthAdjust="spacingAndGlyphs">T</text>
<text class="ns" x="694" y="903" font-size="6.5" font-weight="bold" textLength="91" lengthAdjust="spacingAndGlyphs" transform="rotate(-90 694 903)">Tue Nov 22 07:10:54 2022</text>
<text x="8.22" y="922" font-size="14" textLength="84.46" lengthAdjust="spacingAndGlyphs">2020 Apr 13</text>
<text x="110.83" y="922" font-size="14" textLength="33.86" lengthAdjust="spacingAndGlyphs">2100</text>
<text x="297.24" y="922" font-size="14" textLength="33.65" lengthAdjust="spacingAndGlyphs">2130</text>
<text x="484.25" y="922" font-size="14" textLength="33.34" lengthAdjust="spacingAndGlyphs">2200</text>
<text x="670.23" y="922" font-size="14" textLength="33.96" lengthAdjust="spacingAndGlyphs">2230</text>
<text x="8.29" y="934" font-size="14" textLength="79.98" lengthAdjust="spacingAndGlyphs">GLON (east)</text>
<text x="109.43" y="934" font-size="14" textLength="37.27" lengthAdjust="spacingAndGlyphs">328.9</text>
<text x="295.65" y="934" font-size="14" textLength="37.92" lengthAdjust="spacingAndGlyphs">145.3</text>
<text x="482.99" y="934" font-size="14" textLength="36.44" lengthAdjust="spacingAndGlyphs">120.4</text>
<text x="668.63" y="934" font-size="14" textLength="37.21" lengthAdjust="spacingAndGlyphs">307.2</text>
<text x="7.79" y="946" font-size="14" textLength="94.63" lengthAdjust="spacingAndGlyphs">MLAT-igrf(dip)</text>
<text x="96.08" y="946" font-size="14" textLength="66.83" lengthAdjust="spacingAndGlyphs">19.0(34.3)</text>
<text x="279.22" y="946" font-size="14" textLength="70.74" lengthAdjust="spacingAndGlyphs">29.5(29.3)</text>
<text x="460.18" y="946" font-size="14" textLength="80.64" lengthAdjust="spacingAndGlyphs">89.9(-86.6)</text>
<text x="652.13" y="946" font-size="14" textLength="70.23" lengthAdjust="spacingAndGlyphs">14.2(22.6)</text>
<text x="7.75" y="958" font-size="14" textLength="87.4" lengthAdjust="spacingAndGlyphs">MLT-igrf(dip)</text>
<text x="96.29" y="958" font-size="14" textLength="66.62" lengthAdjust="spacingAndGlyphs">19.4(19.3)</text>
<text x="287.61" y="958" font-size="14" textLength="53.35" lengthAdjust="spacingAndGlyphs">7.3(7.1)</text>
<text x="470.54" y="958" font-size="14" textLength="61.01" lengthAdjust="spacingAndGlyphs">19.3(8.7)</text>
<text x="652.13" y="958" font-size="14" textLength="70.23" lengthAdjust="spacingAndGlyphs">19.4(19.2)</text>
<text x="7.63" y="970" font-size="14" textLength="71.4" lengthAdjust="spacingAndGlyphs">L-igrf(dip)</text>
<text x="102.03" y="970" font-size="14" textLength="53.13" lengthAdjust="spacingAndGlyphs">1.2(1.6)</text>
<text x="287.83" y="970" font-size="14" textLength="53.13" lengthAdjust="spacingAndGlyphs">1.4(1.4)</text>
<text x="460.98" y="970" font-size="14" textLength="78.98" lengthAdjust="spacingAndGlyphs">97.0(308.2)</text>
<text x="660.62" y="970" font-size="14" textLength="53.23" lengthAdjust="spacingAndGlyphs">1.2(1.3)</text>
<text class="ns" x="588.91" y="988" font-size="10.5" textLength="128.23" lengthAdjust="spacingAndGlyphs">nflux: #/(cm^2 s sr MeV)</text>
<text class="ns" x="588.91" y="999" font-size="10.5" textLength="184.07" lengthAdjust="spacingAndGlyphs">Created: Tue Nov 22 15:10:54 2022</text>
</g>
</svg></body></html>
